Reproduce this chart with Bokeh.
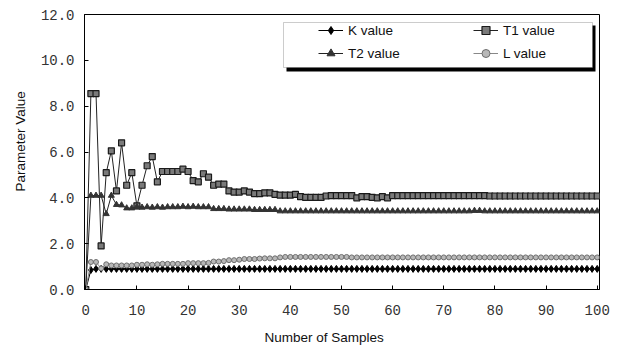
from bokeh.plotting import figure
from bokeh.models import (Range1d, FixedTicker, NumeralTickFormatter, Legend,
                          LegendItem, BoxAnnotation, Title)
from bokeh.embed import file_html
from bokeh.resources import INLINE

samples = list(range(101))

k_value = [0.0, 0.85, 0.9, 0.9, 0.9, 0.9, 0.9, 0.9, 0.9, 0.9,
           0.9, 0.9, 0.9, 0.9, 0.9, 0.9, 0.9, 0.9, 0.9, 0.9,
           0.9, 0.9, 0.9, 0.9, 0.9, 0.9, 0.9, 0.9, 0.9, 0.9,
           0.9, 0.9, 0.9, 0.9, 0.9, 0.9, 0.9, 0.9, 0.9, 0.9,
           0.9, 0.9, 0.9, 0.9, 0.9, 0.9, 0.9, 0.9, 0.9, 0.9,
           0.9, 0.9, 0.9, 0.9, 0.9, 0.9, 0.9, 0.9, 0.9, 0.9,
           0.9, 0.9, 0.9, 0.9, 0.9, 0.9, 0.9, 0.9, 0.9, 0.9,
           0.9, 0.9, 0.9, 0.9, 0.9, 0.9, 0.9, 0.9, 0.9, 0.9,
           0.9, 0.9, 0.9, 0.9, 0.9, 0.9, 0.9, 0.9, 0.9, 0.9,
           0.9, 0.9, 0.9, 0.9, 0.9, 0.9, 0.9, 0.9, 0.9, 0.9,
           0.9]

t1_value = [0.0, 8.55, 8.55, 1.9, 5.1, 6.05, 4.3, 6.4, 4.55, 5.1,
            3.65, 4.55, 5.4, 5.8, 4.7, 5.15, 5.15, 5.15, 5.15, 5.25,
            5.15, 4.75, 4.7, 5.05, 4.9, 4.55, 4.6, 4.6, 4.3, 4.25,
            4.25, 4.3, 4.25, 4.18, 4.18, 4.22, 4.22, 4.15, 4.12, 4.12,
            4.12, 4.15, 4.05, 4.02, 4.02, 4.02, 4.02, 4.08, 4.1, 4.1,
            4.1, 4.1, 4.1, 4.0, 4.05, 4.05, 4.02, 4.0, 4.05, 4.0,
            4.1, 4.1, 4.1, 4.1, 4.1, 4.1, 4.1, 4.1, 4.1, 4.1,
            4.1, 4.1, 4.1, 4.1, 4.1, 4.1, 4.1, 4.1, 4.1, 4.08,
            4.08, 4.08, 4.08, 4.08, 4.08, 4.08, 4.08, 4.08, 4.08, 4.08,
            4.08, 4.08, 4.08, 4.08, 4.08, 4.08, 4.08, 4.08, 4.08, 4.08,
            4.08]

t2_value = [0.0, 4.1, 4.1, 4.1, 3.3, 4.1, 3.7, 3.68, 3.55, 3.55,
            3.6, 3.58, 3.6, 3.58, 3.6, 3.58, 3.6, 3.6, 3.6, 3.62,
            3.6, 3.62, 3.6, 3.6, 3.6, 3.52, 3.52, 3.52, 3.5, 3.5,
            3.5, 3.5, 3.5, 3.48, 3.48, 3.48, 3.48, 3.48, 3.42, 3.42,
            3.42, 3.42, 3.42, 3.42, 3.42, 3.42, 3.42, 3.42, 3.42, 3.42,
            3.42, 3.42, 3.42, 3.42, 3.42, 3.42, 3.42, 3.42, 3.42, 3.42,
            3.42, 3.42, 3.42, 3.42, 3.42, 3.42, 3.42, 3.42, 3.42, 3.42,
            3.42, 3.42, 3.42, 3.42, 3.42, 3.42, 3.44, 3.44, 3.42, 3.42,
            3.42, 3.42, 3.42, 3.42, 3.42, 3.42, 3.42, 3.42, 3.42, 3.42,
            3.42, 3.42, 3.42, 3.42, 3.42, 3.42, 3.42, 3.42, 3.42, 3.42,
            3.42]

l_value = [0.0, 1.2, 1.2, 0.92, 1.1, 1.05, 1.05, 1.05, 1.05, 1.05,
           1.08, 1.08, 1.1, 1.08, 1.1, 1.12, 1.12, 1.12, 1.12, 1.12,
           1.15, 1.15, 1.15, 1.15, 1.16, 1.22, 1.22, 1.24, 1.28, 1.28,
           1.3, 1.33, 1.33, 1.33, 1.35, 1.36, 1.36, 1.36, 1.4, 1.42,
           1.42, 1.42, 1.42, 1.42, 1.42, 1.42, 1.42, 1.42, 1.42, 1.42,
           1.42, 1.42, 1.4, 1.4, 1.4, 1.4, 1.4, 1.4, 1.4, 1.4,
           1.4, 1.4, 1.4, 1.4, 1.4, 1.4, 1.4, 1.4, 1.4, 1.4,
           1.4, 1.4, 1.4, 1.4, 1.4, 1.4, 1.4, 1.4, 1.4, 1.4,
           1.4, 1.4, 1.4, 1.4, 1.4, 1.4, 1.4, 1.4, 1.4, 1.4,
           1.4, 1.4, 1.4, 1.4, 1.4, 1.4, 1.4, 1.4, 1.4, 1.4,
           1.4]

x_ticks = [0, 10, 20, 30, 40, 50, 60, 70, 80, 90, 100]
y_ticks = [0, 2, 4, 6, 8, 10, 12]
x_title = "Number of Samples"
y_title = "Parameter Value"

p = figure(width=617, height=354, output_backend="svg", toolbar_location=None,
           x_range=Range1d(-0.25, 100.45), y_range=Range1d(0, 12),
           min_border_left=84, min_border_right=18, min_border_top=14,
           min_border_bottom=64)
p.grid.visible = False
p.outline_line_color = "black"
p.outline_line_width = 1
p.background_fill_color = "white"
p.border_fill_color = "white"

for ax in (p.xaxis[0], p.yaxis[0]):
    ax.axis_line_color = "black"
    ax.major_tick_line_color = "black"
    ax.major_tick_in = 4
    ax.major_tick_out = 0
    ax.minor_tick_line_color = None
    ax.major_label_text_font = "Liberation Mono"
    ax.major_label_text_font_size = "14px"
    ax.major_label_text_color = "#333"

p.xaxis.ticker = FixedTicker(ticks=x_ticks)
p.yaxis.ticker = FixedTicker(ticks=y_ticks)
p.yaxis.formatter = NumeralTickFormatter(format="0.0")
p.xaxis.major_label_standoff = 15
p.yaxis.major_label_standoff = 10

# axis titles (slightly offset from the frame centre as in the original)
p.add_layout(Title(text=x_title, align="left", offset=180, standoff=20,
                   text_font="Liberation Sans", text_font_size="13.5px",
                   text_font_style="normal", text_color="#111"), "below")
p.add_layout(Title(text=y_title, align="left", offset=98, standoff=19,
                   text_font="Liberation Sans", text_font_size="13.5px",
                   text_font_style="normal", text_color="#111"), "left")

# series
kl = p.line(samples, k_value, line_color="black", line_width=1)
ks = p.scatter(samples, k_value, marker="diamond", size=7, fill_color="black",
               line_color="black")
t1l = p.line(samples, t1_value, line_color="#222", line_width=1)
t1s = p.scatter(samples, t1_value, marker="square", size=6, fill_color="#7a7a7a",
                line_color="#1a1a1a", line_width=1.2)
t2l = p.line(samples, t2_value, line_color="#222", line_width=1)
t2s = p.scatter(samples, t2_value, marker="triangle", size=6, fill_color="#333",
                line_color="#333")
ll = p.line(samples, l_value, line_color="#888", line_width=1)
ls = p.scatter(samples, l_value, marker="circle", size=5, fill_color="#b8b8b8",
               line_color="#6e6e6e")

# legend box with shadow
shadow = BoxAnnotation(left=202, right=511, top=264, bottom=218,
                       left_units="screen", right_units="screen",
                       top_units="screen", bottom_units="screen",
                       fill_color="black", fill_alpha=1, line_color=None)
box = BoxAnnotation(left=199, right=508, top=267, bottom=222,
                    left_units="screen", right_units="screen",
                    top_units="screen", bottom_units="screen",
                    fill_color="white", fill_alpha=1, line_color="#555",
                    line_width=1)
p.add_layout(shadow)
p.add_layout(box)

common = dict(border_line_alpha=0, background_fill_alpha=0, padding=0, margin=0,
              spacing=3, glyph_width=25, glyph_height=20, label_height=20,
              label_standoff=5, label_text_font="Liberation Sans",
              label_text_font_size="13.5px", label_text_color="#111")
leg_a = Legend(items=[LegendItem(label="K value", renderers=[kl, ks]),
                      LegendItem(label="T2 value", renderers=[t2l, t2s])],
               location=(234, 226), **common)
leg_b = Legend(items=[LegendItem(label="T1 value", renderers=[t1l, t1s]),
                      LegendItem(label="L value", renderers=[ll, ls])],
               location=(389, 226), **common)
p.add_layout(leg_a)
p.add_layout(leg_b)

open("out.html", "w").write(file_html(p, INLINE))
